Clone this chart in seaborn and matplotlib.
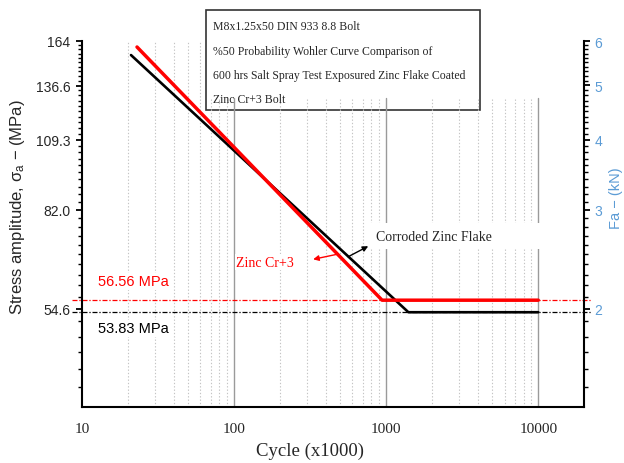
import matplotlib
matplotlib.use("Agg")
import matplotlib.pyplot as plt
from matplotlib.patches import Rectangle
from matplotlib.ticker import NullFormatter
import seaborn as sns

# ---------------- data ----------------
corroded_cycles = [21, 1400, 10000]          # x1000 cycles
corroded_stress = [154.8, 53.83, 53.83]      # MPa
cr3_cycles = [23, 940, 10000]
cr3_stress = [160.0, 56.56, 56.56]
endurance_cr3 = 56.56
endurance_corroded = 53.83

x_ticks = [10, 100, 1000, 10000]
x_tick_labels = ["10", "100", "1000", "10000"]
stress_tick_labels = ["54.6", "82.0", "109.3", "136.6", "164"]
fa_ticks = [2, 3, 4, 5, 6]                   # kN
fa_minor = [1.45, 1.56, 1.67, 1.78, 1.9] + [round(v / 10, 1) for v in range(21, 60) if v % 10]
fa_bottom = 1.335
stress_area = 0.0366                         # kN per MPa (36.6 mm^2)

box_lines = ["M8x1.25x50 DIN 933 8.8 Bolt",
             "%50 Probability Wohler Curve Comparison of",
             "600 hrs Salt Spray Test Exposured Zinc Flake Coated",
             "Zinc Cr+3 Bolt"]

# ---------------- style ----------------
sns.set_style("white")
plt.rcParams["font.family"] = ["Liberation Sans", "DejaVu Sans"]
plt.rcParams["mathtext.fontset"] = "custom"
plt.rcParams["mathtext.rm"] = "Liberation Sans"
plt.rcParams["mathtext.it"] = "Liberation Sans:italic"
SERIF = ["Liberation Serif", "DejaVu Serif"]
BLUE = "#5B9BD5"

fig = plt.figure(figsize=(6.24, 4.64), dpi=100)
ax = fig.add_axes([0.1314, 0.1207, 0.8046, 0.7888])
ax.patch.set_visible(False)

ax.set_xscale("log")
ax.set_yscale("log")

# grid lines
minor_x = [m * d for d in (10, 100, 1000) for m in range(2, 10)]
for v in minor_x:
    ax.axvline(v, ymax=1.0 if v <= 60 else 0.844, color="#c4c4c4",
               ls=(0, (1.2, 1.8)), lw=0.8, zorder=0.5)
for v in x_ticks[1:]:
    ax.axvline(v, ymax=0.844, color="#9a9a9a", lw=1.0, zorder=0.6)

# endurance limit reference lines
ax.plot([-0.02, 1.016], [endurance_cr3] * 2, transform=ax.get_yaxis_transform(),
        clip_on=False, color="red", lw=0.9, dashes=(4, 1.5, 1, 1.5), zorder=1)
ax.plot([-0.02, 1.016], [endurance_corroded] * 2, transform=ax.get_yaxis_transform(),
        clip_on=False, color="black", lw=0.9, dashes=(4, 1.5, 1, 1.5), zorder=1)

# curves
sns.lineplot(x=corroded_cycles, y=corroded_stress, ax=ax, color="black",
             lw=1.9, sort=False, estimator=None, zorder=3)
sns.lineplot(x=cr3_cycles, y=cr3_stress, ax=ax, color="red",
             lw=2.5, sort=False, estimator=None, zorder=4)

ax.set_xlim(10, 20000)
ax.set_ylim(fa_bottom / stress_area, fa_ticks[-1] / stress_area)

ax.set_xticks(x_ticks, labels=x_tick_labels, fontfamily=SERIF, fontsize=11)
ax.set_xticks(minor_x, minor=True)
ax.xaxis.set_minor_formatter(NullFormatter())
ax.set_yticks([float(s) for s in stress_tick_labels], labels=stress_tick_labels, fontsize=10)
ax.set_yticks([f / stress_area for f in fa_minor], minor=True)
ax.yaxis.set_minor_formatter(NullFormatter())
ax.tick_params(which="major", length=4.5, width=1.3, direction="out", color="black", pad=4)
ax.tick_params(which="minor", length=2.8, width=1.0, direction="out", color="black")
ax.tick_params(axis="x", which="major", pad=6)

for s in ("top", "right"):
    ax.spines[s].set_visible(False)
for s in ("left", "bottom"):
    ax.spines[s].set_color("black")
    ax.spines[s].set_linewidth(1.5)

ax.set_xlabel("Cycle (x1000)", fontfamily=SERIF, fontsize=13.5)
ax.xaxis.set_label_coords(0.454, -0.095)
ax.set_ylabel(r"Stress amplitude, σ$_\mathregular{a}$ − (MPa)", fontsize=12)
ax.yaxis.set_label_coords(-0.11, 0.549)

# secondary axis (force)
ax2 = ax.twinx()
ax2.set_yscale("log")
lo, hi = ax.get_ylim()
ax2.set_ylim(lo * stress_area, hi * stress_area)
ax2.set_yticks(fa_ticks, labels=[str(f) for f in fa_ticks], fontsize=10)
ax2.set_yticks(fa_minor, minor=True)
ax2.yaxis.set_minor_formatter(NullFormatter())
ax2.tick_params(which="major", length=4.5, width=1.3, direction="out", color="black",
                labelcolor=BLUE, pad=3)
ax2.tick_params(which="minor", length=2.8, width=1.0, direction="out", color="black")
for s in ("top", "left", "bottom"):
    ax2.spines[s].set_visible(False)
ax2.spines["right"].set_color("black")
ax2.spines["right"].set_linewidth(1.5)
ax2.set_ylabel("Fa − (kN)", color=BLUE, fontsize=10.5)
ax2.yaxis.set_label_coords(1.05, 0.574)

# labels and arrows
ax.add_patch(Rectangle((0.574, 0.432), 0.348, 0.071, transform=ax.transAxes,
                       facecolor="white", edgecolor="none", zorder=2))
ax.text(859, 73.6, "Corroded Zinc Flake", fontfamily=SERIF, fontsize=10,
        va="center", ha="left", zorder=5)
ax.annotate("", xy=(762, 70.6), xytext=(562, 67.6),
            arrowprops=dict(arrowstyle="-|>", color="black", lw=1.0,
                            mutation_scale=8, shrinkA=0, shrinkB=0), zorder=5)
ax.text(103, 66.1, "Zinc Cr+3", fontfamily=SERIF, fontsize=10, color="red",
        va="center", ha="left", zorder=5,
        bbox=dict(facecolor="white", edgecolor="none", pad=1))
ax.annotate("", xy=(331, 66.9), xytext=(476, 68.3),
            arrowprops=dict(arrowstyle="-|>", color="red", lw=1.0,
                            mutation_scale=8, shrinkA=0, shrinkB=0), zorder=5)

ax.text(12.7, 61.1, f"{endurance_cr3:.2f} MPa", color="red", fontsize=10.5,
        va="center", ha="left", zorder=5,
        bbox=dict(facecolor="white", edgecolor="none", pad=1))
ax.text(12.7, 50.4, f"{endurance_corroded:.2f} MPa", color="black", fontsize=10.5,
        va="center", ha="left", zorder=5,
        bbox=dict(facecolor="white", edgecolor="none", pad=1))

# title box
fig.patches.append(Rectangle((206 / 624, 1 - 111 / 464), (480 - 206) / 624, 100 / 464,
                             transform=fig.transFigure, facecolor="white",
                             edgecolor="#333333", lw=1.2, zorder=-1))
for i, line in enumerate(box_lines):
    fig.text(213 / 624, 1 - (27 + 24.5 * i) / 464, line, fontfamily=SERIF,
             fontsize=8.5, va="center", ha="left")

fig.savefig("out.png", dpi=100)
